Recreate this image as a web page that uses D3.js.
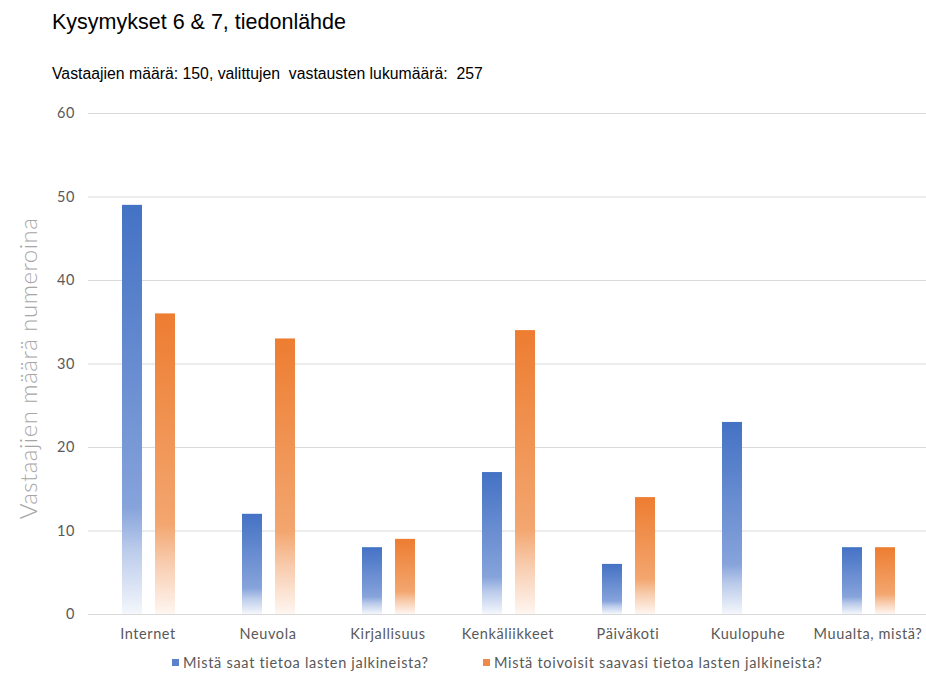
<!DOCTYPE html>
<html>
<head>
<meta charset="utf-8">
<script src="https://cdn.jsdelivr.net/npm/d3@7"></script>
<style>
  html, body { margin: 0; padding: 0; background: #fff; }
  svg { display: block; }
  text { white-space: pre; }
</style>
</head>
<body>
<svg id="chart" width="926" height="677"></svg>
<script>
// Data
const categories = ["Internet", "Neuvola", "Kirjallisuus", "Kenkäliikkeet", "Päiväkoti", "Kuulopuhe", "Muualta, mistä?"];
const seriesNames = ["Mistä saat tietoa lasten jalkineista?", "Mistä toivoisit saavasi tietoa lasten jalkineista?"];
const currentSources = [49, 12, 8, 17, 6, 23, 8];
const wishedSources = [36, 33, 9, 34, 14, 0, 8];
const yTicks = [0, 10, 20, 30, 40, 50, 60];

const titleText = "Kysymykset 6 & 7, tiedonlähde";
const subtitleText = "Vastaajien määrä: 150, valittujen  vastausten lukumäärä:  257";
const yAxisTitle = "Vastaajien määrä numeroina";

const svg = d3.select("#chart");
const labelFont = "Lato, 'Open Sans', sans-serif";
const titleFont = "'Liberation Sans', Arial, sans-serif";

const plot = { left: 88, right: 928, top: 113, bottom: 614 };

const x = d3.scaleBand().domain(categories).range([plot.left, plot.right]);
const inner = d3.scaleBand().domain([0, 1]).range([34, 87]).paddingInner(0.394);
const y = d3.scaleLinear().domain([0, 60]).range([plot.bottom, plot.top]);

// Gradients: solid colour at the top fading to white at the base
const defs = svg.append("defs");
const palette = [
  { id: "gradBlue", stops: [["0%", "#4472C4"], ["74%", "#86A3DB"], ["84%", "#B9CAEA"], ["100%", "#F4F7FC"]] },
  { id: "gradOrange", stops: [["0%", "#ED7D31"], ["70%", "#F3A66F"], ["83%", "#F8CCAE"], ["100%", "#FEF6F1"]] }
];
palette.forEach(p => {
  const g = defs.append("linearGradient").attr("id", p.id)
    .attr("x1", 0).attr("y1", 0).attr("x2", 0).attr("y2", 1);
  p.stops.forEach(([o, c]) => g.append("stop").attr("offset", o).attr("stop-color", c));
});

// Titles
svg.append("text").attr("x", 52).attr("y", 29)
  .attr("font-family", titleFont).attr("font-size", 21.5).attr("fill", "#000")
  .text(titleText);
svg.append("text").attr("x", 52).attr("y", 79)
  .attr("font-family", titleFont).attr("font-size", 15.8).attr("fill", "#000")
  .text(subtitleText);

// Y axis with gridlines
const yAxis = d3.axisLeft(y).tickValues(yTicks).tickSize(-(plot.right - plot.left)).tickPadding(13);
const gy = svg.append("g").attr("transform", `translate(${plot.left},0)`).call(yAxis);
gy.select(".domain").remove();
gy.selectAll(".tick line").attr("stroke", "#D9D9D9").attr("stroke-width", 1);
gy.selectAll(".tick text").attr("font-family", labelFont).attr("font-size", 14.5)
  .attr("letter-spacing", 0.6).attr("fill", "#595959");

// Y axis title
svg.append("text")
  .attr("transform", `translate(37,${(plot.top + plot.bottom) / 2 + 5}) rotate(-90)`)
  .attr("text-anchor", "middle")
  .attr("font-family", labelFont).attr("font-size", 24).attr("font-weight", 300)
  .attr("letter-spacing", 0.5).attr("fill", "#A6A6A6")
  .text(yAxisTitle);

// Bars
const rows = categories.map((c, i) => ({ cat: c, vals: [currentSources[i], wishedSources[i]] }));
const groups = svg.append("g").selectAll("g").data(rows).join("g")
  .attr("transform", d => `translate(${x(d.cat)},0)`);
groups.selectAll("rect").data(d => d.vals.map((v, s) => ({ v, s }))).join("rect")
  .attr("x", d => inner(d.s))
  .attr("width", inner.bandwidth())
  .attr("y", d => y(d.v))
  .attr("height", d => y(0) - y(d.v))
  .attr("fill", d => `url(#${palette[d.s].id})`);

// X axis
const xAxis = d3.axisBottom(x).tickSize(0).tickPadding(15);
const gx = svg.append("g").attr("transform", `translate(0,${plot.bottom})`).call(xAxis);
gx.select(".domain").attr("stroke", "#D9D9D9");
gx.selectAll(".tick text").attr("font-family", labelFont).attr("font-size", 14.5)
  .attr("letter-spacing", 0.6).attr("fill", "#595959");

// Legend
const legendX = [172, 483];
const legend = svg.append("g").selectAll("g").data(seriesNames).join("g")
  .attr("transform", (d, i) => `translate(${legendX[i]},668)`);
legend.append("rect").attr("x", 0).attr("y", -9).attr("width", 7).attr("height", 7)
  .attr("fill", (d, i) => i === 0 ? "#5B82CB" : "#EF8A4B");
legend.append("text").attr("x", 11).attr("y", 0)
  .attr("font-family", labelFont).attr("font-size", 14.5)
  .attr("letter-spacing", 0.7).attr("fill", "#595959")
  .text(d => d);
</script>
</body>
</html>
